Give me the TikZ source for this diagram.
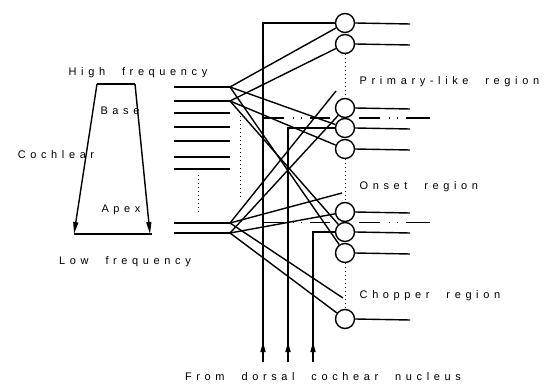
\documentclass[tikz,border=0pt]{standalone}
\usepackage{fontspec}
\setmainfont{Liberation Sans}
\newfontfamily\lblfont[LetterSpace=42,WordSpace=2.2]{Liberation Sans}
\usetikzlibrary{arrows.meta}

\begin{document}
\begin{tikzpicture}[x=1pt,y=-1pt,line width=1.4pt,
  cell/.style={circle,draw,minimum size=19pt,inner sep=0pt},
  lbl/.style={font=\lblfont\fontsize{11}{13}\selectfont,inner sep=0pt},
  dotline/.style={line width=1pt,dash pattern=on 1pt off 3pt},
  gapline/.style={dash pattern=on 21pt off 9pt on 1pt off 7pt on 1pt off 8pt on 30pt},
  upmark/.style={-{Triangle[length=10pt,width=5pt]}}]
\useasboundingbox (0,0) rectangle (557,385);

% Cochlea
\coordinate (tl) at (97,84);
\coordinate (tr) at (135,84);
\coordinate (bl) at (74,234);
\coordinate (br) at (150,234);
\coordinate (be) at (152,234);
\draw (tl) -- (tr);
\draw[-{Triangle[length=12pt,width=5pt]}] (tl) -- (bl);
\draw[-{Triangle[length=12pt,width=5pt]}] (tr) -- (br);
\draw (bl) -- (be);
\node[lbl] (hf) at (138,73) {High frequency};
\node[lbl] (base) at (120,111) {Base};
\node[lbl] (coch) at (56,155) {Cochlear};
\node[lbl] (apex) at (121,210) {Apex};
\node[lbl] (lf) at (125,262) {Low frequency};

% Auditory nerve fibres
\foreach \y [count=\i] in {87,101,113,127,141,157,169,223,233} {
  \coordinate (s\i) at (174,\y);
  \coordinate (e\i) at (230,\y);
  \draw (s\i) -- (e\i);
}
\draw[dotline] (198,175) -- (198,212);
\draw[dotline] (240,112) -- (240,198);

% Cells of the ventral nucleus
\foreach \y [count=\i] in {23,44,108,128,149,212,232,253,319}
  \node[cell] (c\i) at (345,\y) {};
\foreach \i in {1,...,9} {
  \path (c\i.east) ++(55,1) coordinate (o\i);
  \draw (c\i.east) -- (o\i);
}
\draw[dotline] (c2.south) -- (c3.north);
\draw[dotline] (c5.south) -- (c6.north);
\draw[dotline] (c8.south) -- (c9.north);
\node[lbl,anchor=west] (pl) at (359,82) {Primary-like region};
\node[lbl,anchor=west] (on) at (359,187) {Onset region};
\node[lbl,anchor=west] (ch) at (359,296) {Chopper region};

% Fibres fanning out to the cells
\coordinate (d1) at (336,91);
\coordinate (d2) at (342,193);
\coordinate (d3) at (343,298);
\foreach \a/\b in {e1/c1,e1/c4,e1/c8,e2/c2,e2/c5,e2/c7,e8/d1,e8/d2,e8/d3,e9/c3,e9/c6,e9/c9}
  \draw (\a) -- (\b);

% Input from the dorsal nucleus
\foreach \x/\c [count=\i] in {263/c1,288/c4,313/c7} {
  \coordinate (b\i) at (\x,362);
  \coordinate (t\i) at (\x,342);
  \draw (b\i) |- (\c.west);
  \draw[upmark] (b\i) -- (t\i);
}
\foreach \c [count=\i] in {c3,c6} {
  \coordinate (g\i a) at (b1 |- \c.south);
  \path (\c.south) ++(-15,0) coordinate (g\i b) ++(29,0) coordinate (g\i c) ++(71,0) coordinate (g\i d);
  \draw[gapline] (g\i a) -- (g\i b);
  \draw[gapline] (g\i c) -- (g\i d);
}
\node[lbl] (dcn) at (323,377) {From dorsal cochear nucleus};
\end{tikzpicture}
\end{document}
